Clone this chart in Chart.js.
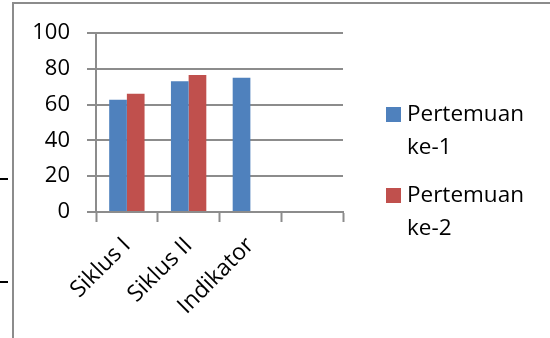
<!DOCTYPE html>
<html>
<head>
<meta charset="utf-8">
<script src="https://cdn.jsdelivr.net/npm/chart.js@4"></script>
<style>
  body { margin: 0; background: #fff; }
  #wrap { position: relative; width: 550px; height: 338px; overflow: hidden; }
  #frameTop { position: absolute; left: 12px; top: 2px; width: 540px; height: 2px; background: #8c8c8c; }
  #frameLeft { position: absolute; left: 12px; top: 2px; width: 2px; height: 340px; background: #8c8c8c; }
  .mark { position: absolute; left: 0; width: 8px; height: 2px; background: #000; }
  canvas { position: absolute; left: 0; top: 0; }
</style>
</head>
<body>
<div id="wrap">
  <div id="frameTop"></div>
  <div id="frameLeft"></div>
  <div class="mark" style="top:178px"></div>
  <div class="mark" style="top:281px"></div>
  <canvas id="chart" width="550" height="338"></canvas>
</div>
<script>
const categories = ['Siklus I', 'Siklus II', 'Indikator', ''];
const pertemuan1 = [62.7, 73.1, 75, null];
const pertemuan2 = [66.1, 76.6, null, null];
const seriesNames = [['Pertemuan', 'ke-1'], ['Pertemuan', 'ke-2']];
const yTicks = [0, 20, 40, 60, 80, 100];

const colors = {
    blue: '#4F81BD',
    red: '#C0504D',
    grid: '#8c8c8c'
};
const fontFamily = '"Open Sans", sans-serif';

// legend drawn by hand so the two-line labels sit like the original
const sideLegend = {
    id: 'sideLegend',
    afterDraw(chart) {
        const ctx = chart.ctx;
        ctx.save();
        ctx.font = '22.5px ' + fontFamily;
        ctx.textBaseline = 'middle';
        ctx.fillStyle = '#000';
        chart.data.datasets.forEach((ds, i) => {
            const top = 107 + i * 81;
            ctx.fillStyle = ds.backgroundColor;
            ctx.fillRect(386, top, 15, 15);
            ctx.fillStyle = '#000';
            ds.label.forEach((line, j) => {
                ctx.fillText(line, 407, top + 8 + j * 33);
            });
        });
        ctx.restore();
    }
};

new Chart(document.getElementById('chart'), {
    type: 'bar',
    data: {
        labels: categories,
        datasets: [
            { label: seriesNames[0], data: pertemuan1, backgroundColor: colors.blue },
            { label: seriesNames[1], data: pertemuan2, backgroundColor: colors.red }
        ]
    },
    options: {
        responsive: false,
        animation: false,
        layout: { padding: { left: 0, right: 207, top: 33, bottom: 0 } },
        datasets: {
            bar: { categoryPercentage: 0.573, barPercentage: 1.0, grouped: true }
        },
        plugins: {
            legend: { display: false },
            tooltip: { enabled: false }
        },
        scales: {
            x: {
                grid: {
                    display: true,
                    drawOnChartArea: false,
                    drawTicks: true,
                    tickLength: 10,
                    tickWidth: 2,
                    tickColor: colors.grid,
                    offset: true
                },
                border: { color: colors.grid, width: 2 },
                ticks: {
                    color: '#000',
                    font: { family: fontFamily, size: 23 },
                    maxRotation: 45,
                    minRotation: 45,
                    autoSkip: false,
                    padding: 10
                },
                afterFit(scale) { scale.height = 126; }
            },
            y: {
                min: 0,
                max: 100,
                afterBuildTicks(scale) { scale.ticks = yTicks.map(v => ({ value: v })); },
                grid: {
                    color: colors.grid,
                    lineWidth: 2,
                    tickLength: 9,
                    drawTicks: true
                },
                border: { color: colors.grid, width: 2 },
                ticks: {
                    color: '#000',
                    font: { family: fontFamily, size: 22 },
                    padding: 17
                },
                afterFit(scale) { scale.width = 96; }
            }
        }
    },
    plugins: [sideLegend]
});
</script>
</body>
</html>
